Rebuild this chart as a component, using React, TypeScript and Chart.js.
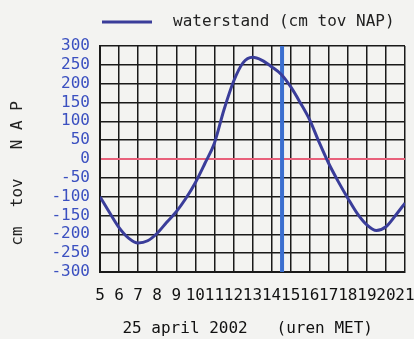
import React, { useEffect, useRef } from "react";
import { Chart, registerables } from "chart.js";

Chart.register(...registerables);

// hours (MET) on 25 april 2002
const hours = [5, 5.5, 6, 6.5, 7, 7.5, 8, 8.5, 9, 9.5, 10, 10.5, 11, 11.5, 12, 12.5, 13, 13.5, 14, 14.5, 15, 15.5, 16, 16.5, 17, 17.5, 18, 18.5, 19, 19.5, 20, 20.5, 21];
// waterstand (cm tov NAP)
const waterstand = [-100, -142, -182, -210, -223, -217, -197, -168, -140, -105, -63, -12, 42, 130, 205, 255, 270, 262, 245, 225, 192, 150, 104, 44, -12, -60, -104, -145, -175, -190, -180, -150, -117];
// current time marker (hour)
const nowHour = [14.55];
const yLimits = [-300, 300];
const xLimits = [5, 21];

const legendLabel = "waterstand (cm tov NAP)";
const xTitle = "25 april 2002   (uren MET) ";
const yTitle = "cm  tov   N A P   ";

const LINE_COLOR = "#3a3d9a";
const MONO = "'DejaVu Sans Mono', monospace";

const legendPlugin = {
  id: "topLegend",
  afterDraw(chart: any) {
    const ctx = chart.ctx;
    const area = chart.chartArea;
    ctx.save();
    const y = 22;
    const x0 = area.left + 2;
    ctx.strokeStyle = LINE_COLOR;
    ctx.lineWidth = 3;
    ctx.beginPath();
    ctx.moveTo(x0, y);
    ctx.lineTo(x0 + 50, y);
    ctx.stroke();
    ctx.fillStyle = "#222";
    ctx.font = "16px " + MONO;
    ctx.textBaseline = "middle";
    ctx.textAlign = "left";
    ctx.fillText(chart.data.datasets[0].label, x0 + 71, y);
    ctx.restore();
  },
};

export default function App() {
  const ref = useRef<HTMLCanvasElement | null>(null);
  useEffect(() => {
    const canvas = ref.current;
    if (!canvas) return;
    const chart = new Chart(canvas, {
      type: "line",
      data: {
        datasets: [
          {
            label: legendLabel,
            data: hours.map((h, i) => ({ x: h, y: waterstand[i] })),
            borderColor: LINE_COLOR,
            backgroundColor: LINE_COLOR,
            borderWidth: 3,
            pointRadius: 0,
            cubicInterpolationMode: "monotone",
          },
          {
            label: "nu",
            data: [
              { x: nowHour[0], y: yLimits[0] },
              { x: nowHour[0], y: yLimits[1] },
            ],
            borderColor: "#3b6fcf",
            backgroundColor: "#3b6fcf",
            borderWidth: 4,
            pointRadius: 0,
          },
        ],
      },
      plugins: [legendPlugin],
      options: {
        animation: false,
        responsive: false,
        maintainAspectRatio: false,
        layout: { padding: { left: 0, right: 0, top: 46, bottom: 0 } },
        plugins: {
          tooltip: { enabled: false },
          legend: { display: false },
        },
        scales: {
          x: {
            type: "linear",
            min: xLimits[0],
            max: xLimits[1],
            border: { display: true, color: "#1a1a1a", width: 2 },
            grid: { color: "#1a1a1a", lineWidth: 1.5, drawTicks: false },
            ticks: {
              stepSize: 1,
              autoSkip: false,
              maxRotation: 0,
              padding: 14,
              color: "#111",
              font: { family: MONO, size: 16 },
            },
            title: {
              display: true,
              text: xTitle,
              color: "#111",
              font: { family: MONO, size: 16 },
              padding: { top: 4, bottom: 1 },
            },
            afterFit: (s: any) => {
              s.height = 67;
              s.paddingRight = 9;
              s.paddingLeft = 0;
            },
          },
          y: {
            min: yLimits[0],
            max: yLimits[1],
            border: { display: true, color: "#1a1a1a", width: 2 },
            grid: {
              color: (c: any) => (c.tick && c.tick.value === 0 ? "#e8607a" : "#1a1a1a"),
              lineWidth: (c: any) => (c.tick && c.tick.value === 0 ? 2 : 1.5),
              drawTicks: false,
            },
            ticks: {
              stepSize: 50,
              autoSkip: false,
              padding: 10,
              color: "#3b50c0",
              font: { family: MONO, size: 16 },
            },
            title: {
              display: true,
              text: yTitle,
              color: "#222",
              font: { family: MONO, size: 16 },
              padding: { top: 8, bottom: 0 },
            },
            afterFit: (s: any) => {
              s.width = 100;
              s.paddingTop = 0;
              s.paddingBottom = 0;
            },
          },
        },
      },
    });
    return () => chart.destroy();
  }, []);
  return (
    <div style={{ position: "fixed", left: 0, top: 0, width: 414, height: 339, background: "#f3f3f1" }}>
      <canvas ref={ref} width={414} height={339} style={{ display: "block", width: 414, height: 339 }} />
    </div>
  );
}
